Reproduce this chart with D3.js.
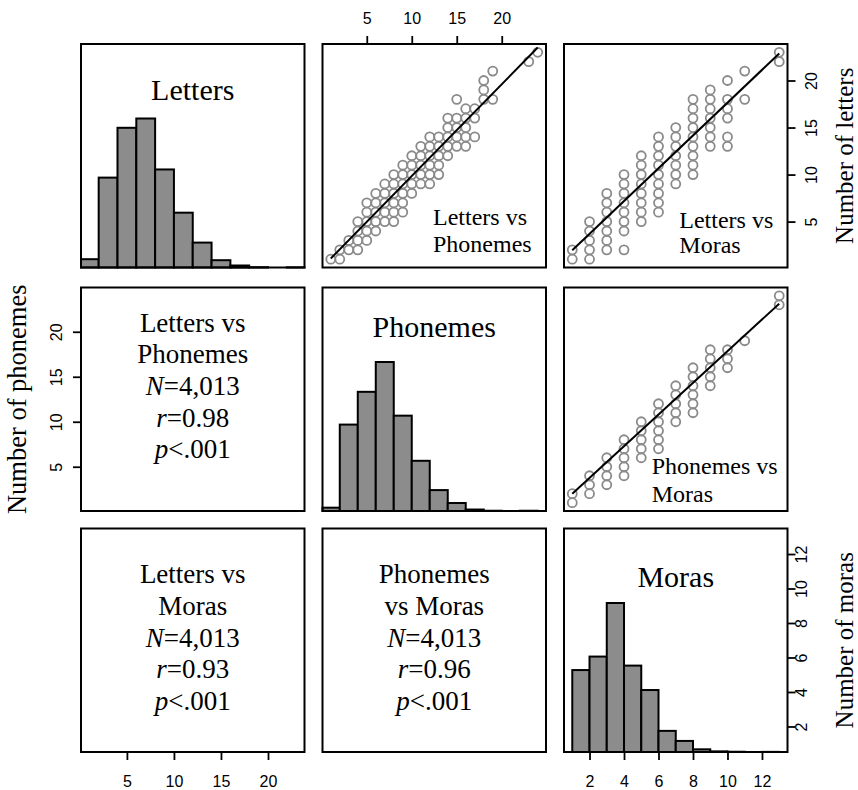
<!DOCTYPE html>
<html>
<head>
<meta charset="utf-8">
<script src="https://cdn.jsdelivr.net/npm/d3@7"></script>
<style>
body { margin: 0; background: #fff; }
svg { display: block; }
</style>
</head>
<body>
<script>
// variables of the scatterplot matrix
var varNames = ["Letters", "Phonemes", "Moras"];
var varRanges = [[1, 23], [1, 24], [1, 13]];
var axisTitles = ["Number of letters", "Number of phonemes", "Number of moras"];
var tickValues = [[5, 10, 15, 20], [5, 10, 15, 20], [2, 4, 6, 8, 10, 12]];

// histograms (diagonal)
var lettersBreaks = [0, 2, 4, 6, 8, 10, 12, 14, 16, 18, 20, 22, 24];
var lettersCounts = [58, 628, 976, 1041, 685, 383, 174, 51, 14, 2, 0, 1];
var phonemesBreaks = [0, 2, 4, 6, 8, 10, 12, 14, 16, 18, 20, 22, 24];
var phonemesCounts = [25, 649, 895, 1119, 716, 377, 157, 60, 11, 2, 0, 2];
var morasBreaks = [1, 2, 3, 4, 5, 6, 7, 8, 9, 10, 11, 12, 13];
var morasCounts = [644, 750, 1171, 679, 487, 166, 87, 21, 5, 2, 0, 1];

// scatter points: x values and the y values seen at each x
var lpPhonemes = [1, 2, 3, 4, 5, 6, 7, 8, 9, 10, 11, 12, 13, 14, 15, 16, 17, 18, 19, 23, 24];
var lpLetters = [
  [1], [1, 2], [2, 3], [2, 3, 4, 5], [3, 4, 5, 6, 7], [4, 5, 6, 7, 8], [5, 6, 7, 8, 9],
  [5, 6, 7, 8, 9, 10], [6, 7, 8, 9, 10, 11], [8, 9, 10, 11, 12], [9, 10, 11, 12, 13],
  [9, 10, 11, 12, 13, 14], [10, 11, 12, 13, 14], [12, 13, 14, 15, 16], [13, 14, 15, 16, 18],
  [13, 14, 15, 16, 17], [14, 16, 17], [18, 19, 20], [18, 21], [22], [23]
];
var lmMoras = [1, 2, 3, 4, 5, 6, 7, 8, 9, 10, 11, 13];
var lmLetters = [
  [1, 2], [1, 2, 3, 4, 5], [2, 3, 4, 5, 6, 7, 8], [2, 4, 5, 6, 7, 8, 9, 10],
  [5, 6, 7, 8, 9, 10, 11, 12], [6, 7, 8, 9, 10, 11, 12, 13, 14], [9, 10, 11, 12, 13, 14, 15],
  [10, 11, 12, 13, 14, 15, 16, 17, 18], [13, 14, 15, 16, 17, 18, 19],
  [13, 14, 16, 17, 18, 20], [18, 21], [22, 23]
];
var pmMoras = [1, 2, 3, 4, 5, 6, 7, 8, 9, 10, 11, 13];
var pmPhonemes = [
  [1, 2], [2, 3, 4], [3, 4, 5, 6], [4, 5, 6, 7, 8], [6, 7, 8, 9, 10], [7, 8, 9, 10, 11, 12],
  [10, 11, 12, 13, 14], [11, 12, 13, 14, 15, 16], [14, 15, 16, 17, 18], [16, 17, 18], [19], [23, 24]
];

// fitted lines: intercept, slope
var fitLP = [0.1, 0.975];
var fitLM = [0.22, 1.742];
var fitPM = [0.24, 1.76];

// correlation text
var nText = "4,013";
var rLP = "0.98", rLM = "0.93", rPM = "0.96";
var pText = "<.001";

var width = 858, height = 790;
var colX = [81, 322.5, 564], rowY = [44, 287.5, 528.5], S = 223.5;
var serif = "'Liberation Serif', 'Times New Roman', serif";
var sans = "'Liberation Sans', Arial, sans-serif";

var svg = d3.select("body").append("svg").attr("width", width).attr("height", height);

function ext(k) {
  var r = varRanges[k], d = (r[1] - r[0]) * 0.04;
  return [r[0] - d, r[1] + d];
}
var xs = varNames.map((v, k) => d3.scaleLinear().domain(ext(k)).range([0, S]));
var ys = varNames.map((v, k) => d3.scaleLinear().domain(ext(k)).range([S, 0]));

function panel(i, j) {
  return svg.append("g").attr("transform", "translate(" + colX[j] + "," + rowY[i] + ")");
}

// ---- diagonal histograms
var hists = [[lettersBreaks, lettersCounts], [phonemesBreaks, phonemesCounts], [morasBreaks, morasCounts]];
var titleBase = [56, 49, 58];
hists.forEach(function(h, k) {
  var g = panel(k, k);
  var x = xs[k], dom = x.domain();
  var hy = d3.scaleLinear().domain([0, 1.5]).range([S, 0]);
  var mx = d3.max(h[1]);
  var bins = h[1].map((c, n) => ({ x0: h[0][n], x1: h[0][n + 1], c: c })).filter(d => d.c > 0);
  g.selectAll("rect.bar").data(bins).join("rect")
    .attr("class", "bar")
    .attr("x", d => x(Math.max(d.x0, dom[0])))
    .attr("width", d => x(Math.min(d.x1, dom[1])) - x(Math.max(d.x0, dom[0])))
    .attr("y", d => hy(d.c / mx))
    .attr("height", d => S - hy(d.c / mx))
    .attr("fill", "#8c8c8c")
    .attr("stroke", "#000")
    .attr("stroke-width", 2);
  g.append("text")
    .attr("x", S / 2).attr("y", titleBase[k])
    .attr("text-anchor", "middle")
    .style("font-family", serif).style("font-size", "30px")
    .text(varNames[k]);
});

// ---- upper scatter panels
function flatten(xv, yv) {
  var pts = [];
  xv.forEach((xx, n) => yv[n].forEach(yy => pts.push([xx, yy])));
  return pts;
}
var scatters = [
  { i: 0, j: 1, pts: flatten(lpPhonemes, lpLetters), fit: fitLP, label: ["Letters vs", "Phonemes"], lx: 110.5, ly: [181, 207.7] },
  { i: 0, j: 2, pts: flatten(lmMoras, lmLetters), fit: fitLM, label: ["Letters vs", "Moras"], lx: 115.3, ly: [184.3, 209.3] },
  { i: 1, j: 2, pts: flatten(pmMoras, pmPhonemes), fit: fitPM, label: ["Phonemes vs", "Moras"], lx: 87.7, ly: [186, 214] }
];
scatters.forEach(function(s) {
  var g = panel(s.i, s.j);
  var x = xs[s.j], y = ys[s.i];
  g.selectAll("circle").data(s.pts).join("circle")
    .attr("cx", d => x(d[0])).attr("cy", d => y(d[1]))
    .attr("r", 4.5)
    .attr("fill", "none")
    .attr("stroke", "#8a8a8a")
    .attr("stroke-width", 1.8);
  var xr = d3.extent(s.pts, d => d[0]);
  g.append("path")
    .datum(xr.map(v => [v, s.fit[0] + s.fit[1] * v]))
    .attr("d", d3.line().x(d => x(d[0])).y(d => y(d[1])))
    .attr("stroke", "#000").attr("stroke-width", 2).attr("fill", "none");
  g.selectAll("text").data(s.label).join("text")
    .attr("x", s.lx).attr("y", (d, n) => s.ly[n])
    .style("font-family", serif).style("font-size", "24px")
    .text(d => d);
});

// ---- lower correlation panels
var stats = [
  { i: 1, j: 0, head: ["Letters vs", "Phonemes"], r: rLP, top: 44.2 },
  { i: 2, j: 0, head: ["Letters vs", "Moras"], r: rLM, top: 54.8 },
  { i: 2, j: 1, head: ["Phonemes", "vs Moras"], r: rPM, top: 54.8 }
];
stats.forEach(function(s) {
  var g = panel(s.i, s.j);
  var t = g.append("text")
    .attr("text-anchor", "middle")
    .style("font-family", serif).style("font-size", "27px");
  var lines = [[["", s.head[0]]], [["", s.head[1]]], [["N", "=" + nText]], [["r", "=" + s.r]], [["p", pText]]];
  lines.forEach(function(ln, n) {
    var tl = t.append("tspan").attr("x", S / 2).attr("y", s.top + n * 31.6);
    ln.forEach(function(part) {
      if (part[0]) tl.append("tspan").style("font-style", "italic").text(part[0]);
      tl.append("tspan").text(part[1]);
    });
  });
});

// ---- panel borders
for (var i = 0; i < 3; i++) {
  for (var j = 0; j < 3; j++) {
    svg.append("rect")
      .attr("x", colX[j]).attr("y", rowY[i]).attr("width", S).attr("height", S)
      .attr("fill", "none").attr("stroke", "#000").attr("stroke-width", 2);
  }
}

// ---- axes
function styleAxis(g) {
  g.select(".domain").remove();
  g.selectAll(".tick line").attr("stroke", "#000").attr("stroke-width", 1.8);
  g.selectAll(".tick text").attr("fill", "#000").style("font-family", sans).style("font-size", "16px");
}
// top: phonemes
svg.append("g").attr("transform", "translate(" + colX[1] + "," + rowY[0] + ")")
  .call(d3.axisTop(xs[1]).tickValues(tickValues[1]).tickSize(8).tickPadding(12))
  .call(styleAxis);
// bottom: letters, moras
svg.append("g").attr("transform", "translate(" + colX[0] + "," + (rowY[2] + S) + ")")
  .call(d3.axisBottom(xs[0]).tickValues(tickValues[0]).tickSize(8).tickPadding(16))
  .call(styleAxis);
svg.append("g").attr("transform", "translate(" + colX[2] + "," + (rowY[2] + S) + ")")
  .call(d3.axisBottom(xs[2]).tickValues(tickValues[2]).tickSize(8).tickPadding(16))
  .call(styleAxis);
// right: letters, moras ; left: phonemes (rotated labels)
function rotLabels(off) {
  return function(g) {
    g.selectAll(".tick text")
      .attr("x", null).attr("dy", null)
      .attr("text-anchor", "middle")
      .attr("transform", "translate(" + off + ",0) rotate(-90)");
  };
}
svg.append("g").attr("transform", "translate(" + (colX[2] + S) + "," + rowY[0] + ")")
  .call(d3.axisRight(ys[0]).tickValues(tickValues[0]).tickSize(8))
  .call(styleAxis).call(rotLabels(29));
svg.append("g").attr("transform", "translate(" + (colX[2] + S) + "," + rowY[2] + ")")
  .call(d3.axisRight(ys[2]).tickValues(tickValues[2]).tickSize(8))
  .call(styleAxis).call(rotLabels(19));
svg.append("g").attr("transform", "translate(" + colX[0] + "," + rowY[1] + ")")
  .call(d3.axisLeft(ys[1]).tickValues(tickValues[1]).tickSize(8))
  .call(styleAxis).call(rotLabels(-19));

// axis titles
var titlePos = [[853, rowY[0] + S / 2], [26, rowY[1] + S / 2], [853, rowY[2] + S / 2]];
var titleSize = [25, 26.5, 25];
axisTitles.forEach(function(t, k) {
  svg.append("text")
    .attr("transform", "translate(" + titlePos[k][0] + "," + titlePos[k][1] + ") rotate(-90)")
    .attr("text-anchor", "middle")
    .style("font-family", serif).style("font-size", titleSize[k] + "px")
    .text(t);
});
</script>
</body>
</html>
